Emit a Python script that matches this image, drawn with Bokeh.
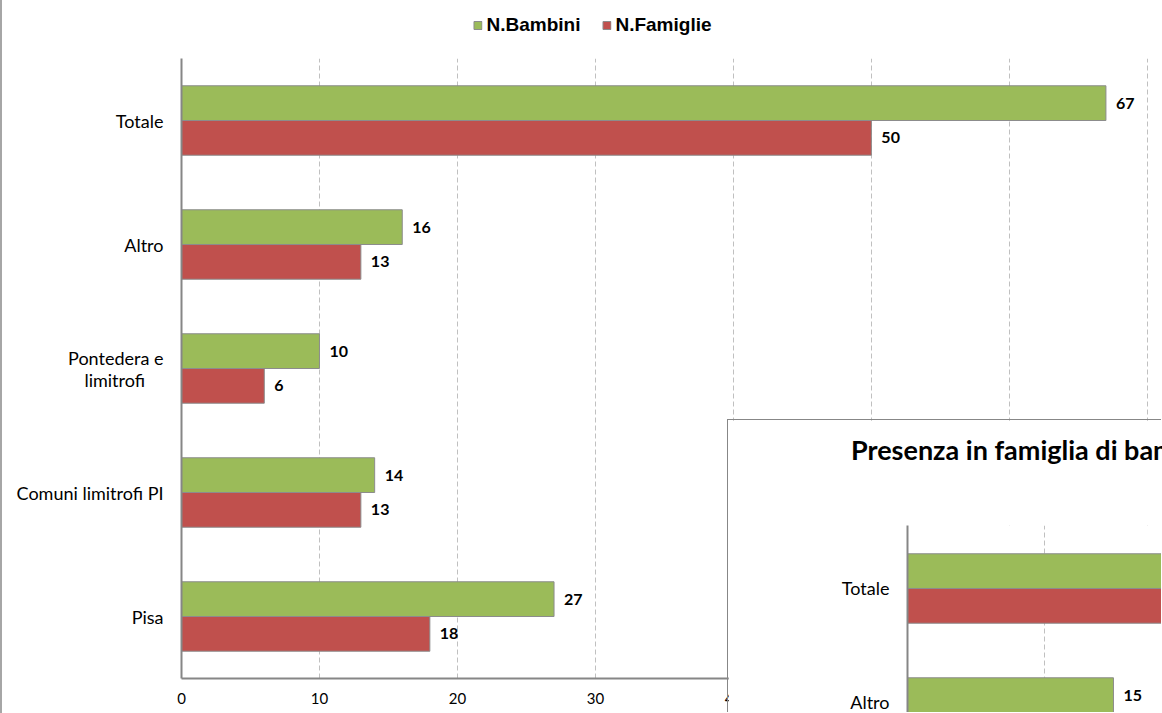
from bokeh.plotting import figure
from bokeh.models import (ColumnDataSource, LabelSet, Legend, LegendItem, FixedTicker,
                          SingleIntervalTicker, Range1d, Div)
from bokeh.layouts import column
from bokeh.core.properties import value
from bokeh.embed import file_html
from bokeh.resources import INLINE

# ---- main chart data ----
categories = ["Pisa", "Comuni limitrofi PI", "Pontedera e\nlimitrofi\u00a0\u00a0\u00a0\u00a0", "Altro", "Totale"]
bambini = [27, 14, 10, 16, 67]
famiglie = [18, 13, 6, 13, 50]
series_names = ["N.Bambini", "N.Famiglie"]
x_ticks = [0, 10, 20, 30, 40, 50, 60, 70]

# ---- inset chart data (visible part only) ----
inset_title = "Presenza in famiglia di bambini con disabilità"
inset_categories = ["Altro", "Totale"]
inset_bambini = [15, 40]
inset_famiglie = [8, 32]

GREEN = "#9BBB59"
RED = "#C0504D"
EDGE = "#8C8C8C"
AXIS = "#868686"
GRID = "#C0C0C0"
FONT = "Lato"

BAR_H = 0.28

# ---------------- main figure ----------------
pos = list(range(len(categories)))
src = ColumnDataSource(dict(
    y_b=[p + BAR_H / 2 for p in pos], y_f=[p - BAR_H / 2 for p in pos],
    bambini=bambini, famiglie=famiglie,
    lb=[str(v) for v in bambini], lf=[str(v) for v in famiglie]))

p = figure(width=1160, height=713, x_range=Range1d(0, 71.1), y_range=Range1d(-0.5, 4.5),
           output_backend="svg", toolbar_location=None,
           min_border_left=179, min_border_right=0, min_border_top=58, min_border_bottom=35,
           margin=(0, 0, 0, 0),
           styles={"border-left": "2px solid #A6A6A6"})
p.outline_line_color = None
p.background_fill_color = "white"

p.hbar(y="y_b", left=0, right="bambini", height=BAR_H, source=src,
       fill_color=GREEN, line_color=EDGE, line_width=1)
p.hbar(y="y_f", left=0, right="famiglie", height=BAR_H, source=src,
       fill_color=RED, line_color=EDGE, line_width=1)

for col, lab in (("bambini", "lb"), ("famiglie", "lf")):
    p.add_layout(LabelSet(x=col, y="y_b" if col == "bambini" else "y_f", text=lab, source=src,
                          x_offset=10, text_baseline="middle", text_align="left",
                          text_font=value(FONT), text_font_style="bold",
                          text_font_size="16px", text_color="black"))

p.xaxis.ticker = FixedTicker(ticks=x_ticks)
p.yaxis.ticker = FixedTicker(ticks=pos)
p.yaxis.major_label_overrides = {i: c for i, c in enumerate(categories)}
for ax in (p.xaxis[0], p.yaxis[0]):
    ax.axis_line_color = AXIS
    ax.axis_line_width = 2
    ax.major_tick_line_color = None
    ax.minor_tick_line_color = None
    ax.major_tick_out = 0
    ax.major_tick_in = 0
    ax.major_label_text_font = FONT
    ax.major_label_text_color = "black"
p.xaxis.major_label_text_font_size = "15px"
p.xaxis.major_label_standoff = 14
p.yaxis.major_label_text_font_size = "18px"
p.yaxis.major_label_standoff = 18
p.yaxis.major_label_text_line_height = 1.0

p.ygrid.visible = False
p.xgrid.grid_line_color = GRID
p.xgrid.grid_line_dash = "5 3"
p.xgrid.grid_line_width = 1

# ---------------- inset figure ----------------
ipos = list(range(len(inset_categories)))
isrc = ColumnDataSource(dict(
    y_b=[q + BAR_H / 2 for q in ipos], y_f=[q - BAR_H / 2 for q in ipos],
    bambini=inset_bambini, famiglie=inset_famiglie,
    lb=[str(v) for v in inset_bambini], lf=[str(v) for v in inset_famiglie]))

q = figure(width=434, height=293, x_range=Range1d(0, 18.57), y_range=Range1d(-0.008, 1.508),
           output_backend="svg", toolbar_location=None,
           min_border_left=179, min_border_right=0, min_border_top=105, min_border_bottom=0,
           margin=(-294, 0, 0, 727),
           styles={"border-left": "1px solid #878787", "border-top": "1px solid #878787"})
q.outline_line_color = None
q.hbar(y="y_b", left=0, right="bambini", height=BAR_H, source=isrc,
       fill_color=GREEN, line_color=EDGE, line_width=1)
q.hbar(y="y_f", left=0, right="famiglie", height=BAR_H, source=isrc,
       fill_color=RED, line_color=EDGE, line_width=1)
q.add_layout(LabelSet(x="bambini", y="y_b", text="lb", source=isrc,
                      x_offset=10, text_baseline="middle", text_align="left",
                      text_font=value(FONT), text_font_style="bold",
                      text_font_size="16px", text_color="black"))
q.xaxis.ticker = SingleIntervalTicker(interval=10)
q.xaxis.visible = False
q.yaxis.ticker = FixedTicker(ticks=ipos)
q.yaxis.major_label_overrides = {i: c for i, c in enumerate(inset_categories)}
q.yaxis.axis_line_color = AXIS
q.yaxis.axis_line_width = 2
q.yaxis.major_tick_line_color = None
q.yaxis.minor_tick_line_color = None
q.yaxis.major_tick_out = 0
q.yaxis.major_label_text_font = FONT
q.yaxis.major_label_text_font_size = "18px"
q.yaxis.major_label_text_color = "black"
q.yaxis.major_label_standoff = 18
q.ygrid.visible = False
q.xgrid.grid_line_color = GRID
q.xgrid.grid_line_dash = "5 3"

# inset title (cropped at the window edge, as in the reference)
title_div = Div(text=inset_title, width=311, height=34, margin=(-278, 0, 0, 851),
                styles={"font-family": "Lato", "font-weight": "bold", "font-size": "27px",
                        "line-height": "1.2", "white-space": "nowrap", "overflow": "hidden",
                        "color": "black"})

# ---------------- legend strip (renderers share the data, bars kept out of view) ----------------
# the column aligns plot frames, so this strip's frame starts 179px right of its left edge
leg = figure(width=479, height=40, x_range=Range1d(-2, -1), y_range=Range1d(-0.5, 4.5),
             x_axis_type=None, y_axis_type=None, output_backend="svg", toolbar_location=None,
             min_border=0, min_border_left=0, min_border_right=0, min_border_top=0,
             min_border_bottom=0, margin=(-463, 0, 0, 263))
leg.outline_line_color = None
leg.background_fill_alpha = 0
leg.border_fill_alpha = 0
lb_r = leg.hbar(y="y_b", left=0, right="bambini", height=BAR_H, source=src,
                fill_color=GREEN, line_color=EDGE, line_width=1)
lf_r = leg.hbar(y="y_f", left=0, right="famiglie", height=BAR_H, source=src,
                fill_color=RED, line_color=EDGE, line_width=1)
legend = Legend(items=[LegendItem(label=series_names[0], renderers=[lb_r]),
                       LegendItem(label=series_names[1], renderers=[lf_r])],
                location="center", orientation="horizontal",
                glyph_width=10, glyph_height=10, label_height=10,
                label_standoff=4, spacing=21, padding=0, margin=0,
                border_line_color=None, background_fill_alpha=0,
                label_text_font="Liberation Sans", label_text_font_style="bold",
                label_text_color="black",
                label_text_font_size="19px", label_text_baseline="middle")
leg.add_layout(legend, "center")

layout = column(p, q, title_div, leg)
open("out.html", "w").write(file_html(layout, INLINE))
